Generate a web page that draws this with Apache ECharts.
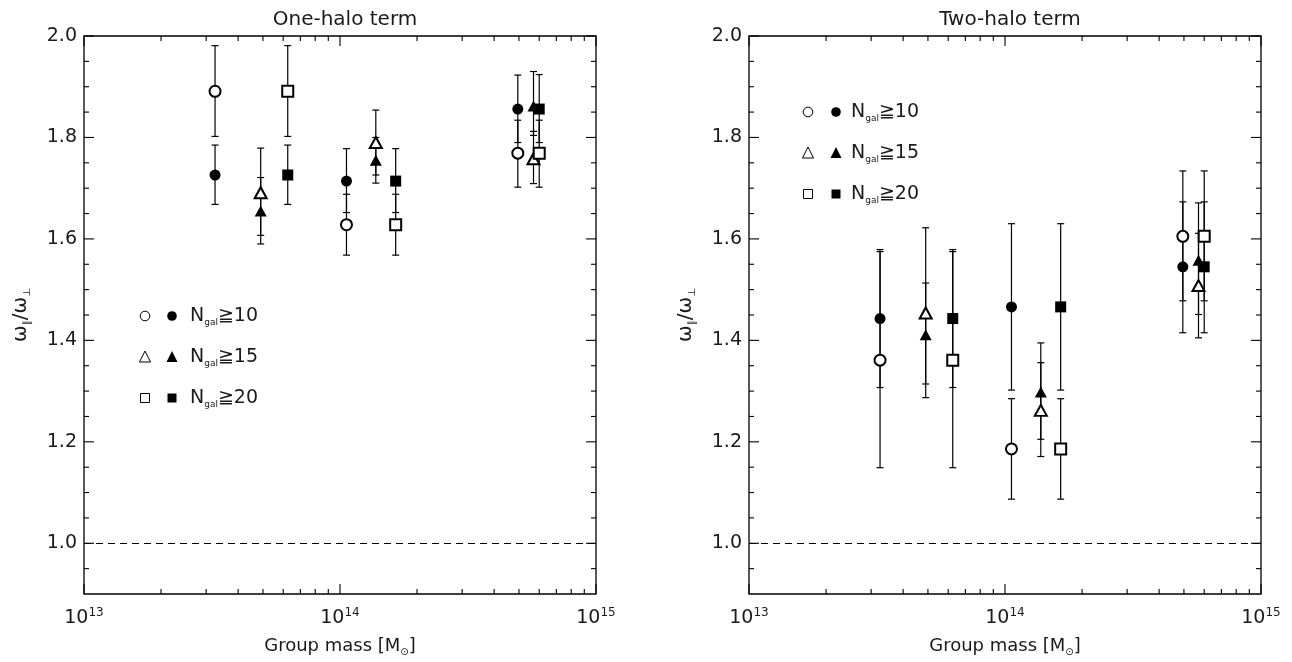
<!DOCTYPE html>
<html><head><meta charset="utf-8">
<script src="https://cdn.jsdelivr.net/npm/echarts@6/dist/echarts.min.js"></script>
<style>html,body{margin:0;padding:0;background:#fff}#c{width:1292px;height:662px}</style>
</head><body><div id="c"></div>
<script>
// ---------------- data ----------------
const panelTitles = ['One-halo term', 'Two-halo term'];
const xAxisTitle = 'Group mass [M';
const legendLabels = ['10', '15', '20'];

// group masses (Msun) for each richness threshold
const massN10 = [3.25e13, 1.06e14, 4.95e14];
const massN15 = [4.9e13, 1.38e14, 5.7e14];
const massN20 = [6.25e13, 1.65e14, 6.0e14];

// One-halo term
const oneN10OpenVal = [1.891, 1.628, 1.769];
const oneN10OpenLo  = [1.802, 1.568, 1.702];
const oneN10OpenHi  = [1.981, 1.688, 1.834];
const oneN10FillVal = [1.726, 1.714, 1.856];
const oneN10FillLo  = [1.668, 1.652, 1.790];
const oneN10FillHi  = [1.785, 1.778, 1.923];
const oneN15OpenVal = [1.691, 1.790, 1.758];
const oneN15OpenLo  = [1.607, 1.726, 1.709];
const oneN15OpenHi  = [1.779, 1.854, 1.812];
const oneN15FillVal = [1.655, 1.755, 1.862];
const oneN15FillLo  = [1.590, 1.710, 1.804];
const oneN15FillHi  = [1.721, 1.800, 1.930];
const oneN20OpenVal = [1.891, 1.628, 1.769];
const oneN20OpenLo  = [1.802, 1.568, 1.702];
const oneN20OpenHi  = [1.981, 1.688, 1.834];
const oneN20FillVal = [1.726, 1.714, 1.856];
const oneN20FillLo  = [1.668, 1.652, 1.790];
const oneN20FillHi  = [1.785, 1.778, 1.924];

// Two-halo term
const twoN10OpenVal = [1.361, 1.186, 1.605];
const twoN10OpenLo  = [1.149, 1.087, 1.478];
const twoN10OpenHi  = [1.575, 1.285, 1.734];
const twoN10FillVal = [1.443, 1.466, 1.545];
const twoN10FillLo  = [1.307, 1.302, 1.415];
const twoN10FillHi  = [1.579, 1.630, 1.673];
const twoN15OpenVal = [1.454, 1.262, 1.508];
const twoN15OpenLo  = [1.287, 1.171, 1.405];
const twoN15OpenHi  = [1.622, 1.356, 1.611];
const twoN15FillVal = [1.411, 1.298, 1.558];
const twoN15FillLo  = [1.314, 1.205, 1.451];
const twoN15FillHi  = [1.513, 1.395, 1.671];
const twoN20OpenVal = [1.361, 1.186, 1.605];
const twoN20OpenLo  = [1.149, 1.087, 1.478];
const twoN20OpenHi  = [1.575, 1.285, 1.734];
const twoN20FillVal = [1.443, 1.466, 1.545];
const twoN20FillLo  = [1.307, 1.302, 1.415];
const twoN20FillHi  = [1.579, 1.630, 1.673];

const refLine = 1.0;

// axes / ticks
const xMin = 1e13, xMax = 1e15;
const yMin = 0.9, yMax = 2.0;
const xMajorTicks = [1e13, 1e14, 1e15];
const xMinorTicks = [2e13,3e13,4e13,5e13,6e13,7e13,8e13,9e13,2e14,3e14,4e14,5e14,6e14,7e14,8e14,9e14];
const yMajorTicks = [1.0, 1.2, 1.4, 1.6, 1.8, 2.0];
const yMinorTicks = [0.95,1.05,1.1,1.15,1.25,1.3,1.35,1.45,1.5,1.55,1.65,1.7,1.75,1.85,1.9,1.95];

// ---------------- chart ----------------
const FONT = '"DejaVu Sans", "Noto Sans CJK JP", sans-serif';
const INK = '#1a1a1a';
const grids = [
  {left: 84, top: 36, width: 512, height: 558},
  {left: 749, top: 36, width: 512, height: 558}
];
const legendPos = [
  {open: 145, fill: 172, text: 190, rows: [316, 357, 398]},
  {open: 808, fill: 836, text: 851, rows: [112, 153, 194]}
];

const panelSets = [
  [
    {m: massN10, v: oneN10OpenVal, lo: oneN10OpenLo, hi: oneN10OpenHi, sym: 'emptyCircle'},
    {m: massN10, v: oneN10FillVal, lo: oneN10FillLo, hi: oneN10FillHi, sym: 'circle'},
    {m: massN15, v: oneN15OpenVal, lo: oneN15OpenLo, hi: oneN15OpenHi, sym: 'emptyTriangle'},
    {m: massN15, v: oneN15FillVal, lo: oneN15FillLo, hi: oneN15FillHi, sym: 'triangle'},
    {m: massN20, v: oneN20OpenVal, lo: oneN20OpenLo, hi: oneN20OpenHi, sym: 'emptyRect'},
    {m: massN20, v: oneN20FillVal, lo: oneN20FillLo, hi: oneN20FillHi, sym: 'rect'}
  ],
  [
    {m: massN10, v: twoN10OpenVal, lo: twoN10OpenLo, hi: twoN10OpenHi, sym: 'emptyCircle'},
    {m: massN10, v: twoN10FillVal, lo: twoN10FillLo, hi: twoN10FillHi, sym: 'circle'},
    {m: massN15, v: twoN15OpenVal, lo: twoN15OpenLo, hi: twoN15OpenHi, sym: 'emptyTriangle'},
    {m: massN15, v: twoN15FillVal, lo: twoN15FillLo, hi: twoN15FillHi, sym: 'triangle'},
    {m: massN20, v: twoN20OpenVal, lo: twoN20OpenLo, hi: twoN20OpenHi, sym: 'emptyRect'},
    {m: massN20, v: twoN20FillVal, lo: twoN20FillLo, hi: twoN20FillHi, sym: 'rect'}
  ]
];

function symSize(sym) {
  if (sym.indexOf('riangle') >= 0) return [12, 11];
  return 11;
}

function errItem(params, api) {
  const x = api.value(0), lo = api.value(1), hi = api.value(2);
  const a = api.coord([x, lo]), b = api.coord([x, hi]);
  const cw = 3.5;
  const st = {stroke: '#000', lineWidth: 1.2};
  return {type: 'group', children: [
    {type: 'line', shape: {x1: a[0], y1: a[1], x2: b[0], y2: b[1]}, style: st},
    {type: 'line', shape: {x1: a[0] - cw, y1: a[1], x2: a[0] + cw, y2: a[1]}, style: st},
    {type: 'line', shape: {x1: b[0] - cw, y1: b[1], x2: b[0] + cw, y2: b[1]}, style: st}
  ]};
}

function tickItem(params, api) {
  const cs = params.coordSys;
  const kind = api.value(2), major = api.value(3);
  const len = major ? 10 : 5;
  const st = {stroke: '#000', lineWidth: 1.1};
  const p = api.coord([api.value(0), api.value(1)]);
  if (kind === 0) {
    const yb = cs.y + cs.height, yt = cs.y;
    return {type: 'group', children: [
      {type: 'line', shape: {x1: p[0], y1: yb, x2: p[0], y2: yb - len}, style: st},
      {type: 'line', shape: {x1: p[0], y1: yt, x2: p[0], y2: yt + len}, style: st}
    ]};
  }
  const xl = cs.x, xr = cs.x + cs.width;
  return {type: 'group', children: [
    {type: 'line', shape: {x1: xl, y1: p[1], x2: xl + len, y2: p[1]}, style: st},
    {type: 'line', shape: {x1: xr, y1: p[1], x2: xr - len, y2: p[1]}, style: st}
  ]};
}

const tickData = [];
xMajorTicks.forEach(v => tickData.push([v, 1.5, 0, 1]));
xMinorTicks.forEach(v => tickData.push([v, 1.5, 0, 0]));
yMajorTicks.forEach(v => tickData.push([1e14, v, 1, 1]));
yMinorTicks.forEach(v => tickData.push([1e14, v, 1, 0]));

const xAxes = [], yAxes = [], series = [], titles = [];
grids.forEach((g, gi) => {
  titles.push({
    text: panelTitles[gi], left: g.left + g.width / 2, top: 5, textAlign: 'center',
    textStyle: {fontFamily: FONT, fontSize: 20, fontWeight: 'normal', color: INK}
  });
  xAxes.push({
    type: 'log', logBase: 10, gridIndex: gi, min: xMin, max: xMax,
    axisLine: {show: false}, axisTick: {show: false}, splitLine: {show: false},
    axisLabel: {
      margin: 13, color: INK, fontFamily: FONT,
      formatter: v => '{b|10}{s|' + Math.round(Math.log10(v)) + '}',
      rich: {
        b: {fontSize: 19, fontFamily: FONT, color: INK, lineHeight: 22},
        s: {fontSize: 12, fontFamily: FONT, color: INK, verticalAlign: 'top', lineHeight: 12}
      }
    },
    name: '{t|' + xAxisTitle + '}{s|⊙}{t|]}', nameLocation: 'middle', nameGap: 41,
    nameTextStyle: {
      rich: {
        t: {fontSize: 18, fontFamily: FONT, color: INK, lineHeight: 22},
        s: {fontSize: 10, fontFamily: FONT, color: INK, verticalAlign: 'bottom', lineHeight: 14}
      }
    }
  });
  yAxes.push({
    type: 'value', gridIndex: gi, min: yMin, max: yMax, interval: 0.1,
    axisLine: {show: false}, axisTick: {show: false}, splitLine: {show: false},
    axisLabel: {
      margin: 7, color: INK, fontFamily: FONT, fontSize: 19,
      formatter: v => (Math.round(v * 10) % 2 === 0 ? v.toFixed(1) : '')
    },
    name: '{w|ω}{s|∥}{w|/ω}{s|⊥}', nameLocation: 'middle', nameGap: 52, nameRotate: 90,
    nameTextStyle: {
      rich: {
        w: {fontSize: 20, fontFamily: FONT, color: INK, lineHeight: 22},
        s: {fontSize: 10, fontFamily: FONT, color: INK, verticalAlign: 'bottom', lineHeight: 13}
      }
    }
  });
  series.push({
    type: 'custom', xAxisIndex: gi, yAxisIndex: gi, renderItem: tickItem,
    data: tickData, silent: true, z: 5, clip: false
  });
  panelSets[gi].forEach(s => {
    series.push({
      type: 'custom', xAxisIndex: gi, yAxisIndex: gi, renderItem: errItem,
      encode: {x: 0, y: [1, 2]},
      data: s.m.map((m, i) => [m, s.lo[i], s.hi[i]]), silent: true, z: 2
    });
  });
  panelSets[gi].forEach((s, si) => {
    const ser = {
      type: 'scatter', xAxisIndex: gi, yAxisIndex: gi,
      symbol: s.sym, symbolSize: symSize(s.sym),
      itemStyle: {color: '#000', borderWidth: 1, opacity: 1},
      data: s.m.map((m, i) => [m, s.v[i]]), silent: true, z: 3
    };
    if (si === 0) {
      ser.markLine = {
        silent: true, symbol: 'none', label: {show: false},
        lineStyle: {type: [7, 5], color: '#000', width: 1},
        data: [{yAxis: refLine}]
      };
    }
    series.push(ser);
  });
});

// legend graphics (layout only)
const graphic = [];
legendPos.forEach(L => {
  L.rows.forEach((y, r) => {
    if (r === 0) {
      graphic.push({type: 'circle', shape: {cx: L.open, cy: y, r: 4.8}, style: {fill: '#fff', stroke: '#000', lineWidth: 1}});
      graphic.push({type: 'circle', shape: {cx: L.fill, cy: y, r: 4.8}, style: {fill: '#000'}});
    } else if (r === 1) {
      graphic.push({type: 'polygon', shape: {points: [[L.open, y - 6], [L.open - 5.5, y + 5], [L.open + 5.5, y + 5]]}, style: {fill: '#fff', stroke: '#000', lineWidth: 1}});
      graphic.push({type: 'polygon', shape: {points: [[L.fill, y - 6], [L.fill - 5.5, y + 5], [L.fill + 5.5, y + 5]]}, style: {fill: '#000'}});
    } else {
      graphic.push({type: 'rect', shape: {x: L.open - 4.5, y: y - 4.5, width: 9, height: 9}, style: {fill: '#fff', stroke: '#000', lineWidth: 1}});
      graphic.push({type: 'rect', shape: {x: L.fill - 4.5, y: y - 4.5, width: 9, height: 9}, style: {fill: '#000'}});
    }
    graphic.push({
      type: 'text', x: L.text, y: y,
      style: {
        text: '{n|N}{s|gal}{t|≧' + legendLabels[r] + '}',
        verticalAlign: 'middle', align: 'left',
        rich: {
          n: {fontSize: 19, fontFamily: FONT, fill: INK, lineHeight: 22},
          s: {fontSize: 9, fontFamily: FONT, fill: INK, verticalAlign: 'bottom', lineHeight: 13},
          t: {fontSize: 19, fontFamily: FONT, fill: INK, lineHeight: 22}
        }
      }
    });
  });
});

const chart = echarts.init(document.getElementById('c'));
chart.setOption({
  animation: false,
  backgroundColor: '#fff',
  title: titles,
  grid: grids.map(g => Object.assign({show: true, borderColor: '#000', borderWidth: 1.3, backgroundColor: 'transparent'}, g)),
  xAxis: xAxes,
  yAxis: yAxes,
  series: series,
  graphic: graphic
});
</script></body></html>
